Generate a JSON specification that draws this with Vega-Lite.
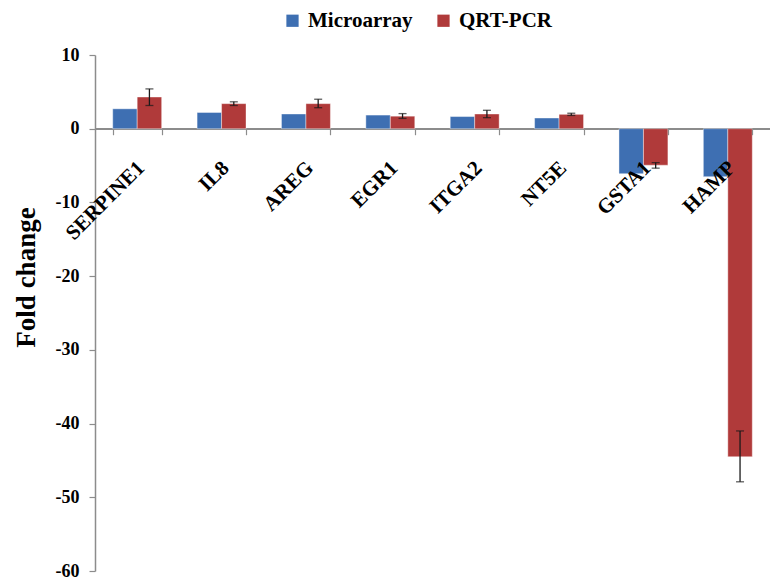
{
  "$schema": "https://vega.github.io/schema/vega-lite/v6.json",
  "width": 675,
  "height": 516,
  "autosize": {"type": "none"},
  "padding": {"left": 95, "top": 55, "right": 0, "bottom": 8},
  "background": "white",
  "config": {
    "view": {"stroke": null},
    "font": "Liberation Serif"
  },
  "data": {
    "values": [
      {"gene": "SERPINE1", "method": "Microarray", "value": 2.7, "lo": null, "hi": null},
      {"gene": "SERPINE1", "method": "QRT-PCR", "value": 4.3, "lo": 3.15, "hi": 5.4},
      {"gene": "IL8", "method": "Microarray", "value": 2.2, "lo": null, "hi": null},
      {"gene": "IL8", "method": "QRT-PCR", "value": 3.4, "lo": 3.15, "hi": 3.65},
      {"gene": "AREG", "method": "Microarray", "value": 2.0, "lo": null, "hi": null},
      {"gene": "AREG", "method": "QRT-PCR", "value": 3.4, "lo": 2.85, "hi": 4.0},
      {"gene": "EGR1", "method": "Microarray", "value": 1.85, "lo": null, "hi": null},
      {"gene": "EGR1", "method": "QRT-PCR", "value": 1.7, "lo": 1.4, "hi": 2.05},
      {"gene": "ITGA2", "method": "Microarray", "value": 1.65, "lo": null, "hi": null},
      {"gene": "ITGA2", "method": "QRT-PCR", "value": 2.0, "lo": 1.5, "hi": 2.5},
      {"gene": "NT5E", "method": "Microarray", "value": 1.45, "lo": null, "hi": null},
      {"gene": "NT5E", "method": "QRT-PCR", "value": 1.95, "lo": 1.8, "hi": 2.1},
      {"gene": "GSTA1", "method": "Microarray", "value": -6.1, "lo": null, "hi": null},
      {"gene": "GSTA1", "method": "QRT-PCR", "value": -4.95, "lo": -5.35, "hi": -4.6},
      {"gene": "HAMP", "method": "Microarray", "value": -6.5, "lo": null, "hi": null},
      {"gene": "HAMP", "method": "QRT-PCR", "value": -44.5, "lo": -47.9, "hi": -41.0}
    ]
  },
  "layer": [
    {
      "mark": {"type": "rule", "color": "#8c8c8c", "strokeWidth": 1.5},
      "encoding": {
        "y": {"datum": 0, "type": "quantitative"}
      }
    },
    {
      "mark": {"type": "bar", "stroke": "#ffffff", "strokeOpacity": 0.5, "strokeWidth": 0.8},
      "encoding": {
        "x": {
          "field": "gene",
          "type": "nominal",
          "sort": null,
          "scale": {"paddingInner": 0.42, "paddingOuter": 0.21},
          "axis": {
            "title": null,
            "zindex": 1,
            "offset": -442.29,
            "domain": false,
            "tickColor": "#8c8c8c",
            "tickWidth": 1.2,
            "tickSize": 6,
            "tickBand": "extent",
            "labelAngle": -45,
            "labelAlign": "right",
            "labelBaseline": "top",
            "labelPadding": 22,
            "labelOffset": -4,
            "labelFont": "Liberation Serif",
            "labelFontWeight": "bold",
            "labelFontSize": 21,
            "labelColor": "black"
          }
        },
        "xOffset": {"field": "method", "type": "nominal", "sort": ["Microarray", "QRT-PCR"]},
        "y": {
          "field": "value",
          "type": "quantitative",
          "scale": {"domain": [-60, 10], "nice": false, "zero": true},
          "axis": {
            "values": [-60, -50, -40, -30, -20, -10, 0, 10],
            "labelExpr": "datum.value < 0 ? '-' + abs(datum.value) : '' + datum.value",
            "grid": false,
            "title": "Fold change",
            "titleFont": "Liberation Serif",
            "titleFontWeight": "bold",
            "titleFontSize": 27,
            "titleColor": "black",
            "titleAngle": -90,
            "titleAlign": "center",
            "titleBaseline": "alphabetic",
            "titleX": -61,
            "titleY": 222,
            "domainColor": "#8c8c8c",
            "domainWidth": 1.5,
            "tickColor": "#8c8c8c",
            "tickWidth": 1.2,
            "tickSize": 6,
            "labelPadding": 10,
            "labelFont": "Liberation Serif",
            "labelFontWeight": "bold",
            "labelFontSize": 18,
            "labelColor": "black"
          }
        },
        "color": {
          "field": "method",
          "type": "nominal",
          "scale": {"domain": ["Microarray", "QRT-PCR"], "range": ["#3E6FB2", "#B03A3A"]},
          "legend": {
            "title": null,
            "orient": "none",
            "direction": "horizontal",
            "legendX": 187,
            "legendY": -45,
            "symbolType": "square",
            "symbolSize": 150,
            "symbolStrokeWidth": 0,
            "symbolOpacity": 1,
            "labelFont": "Liberation Serif",
            "labelFontWeight": "bold",
            "labelFontSize": 21,
            "labelColor": "black",
            "labelLimit": 200,
            "columnPadding": 20,
            "labelOffset": 5
          }
        }
      }
    },
    {
      "transform": [{"filter": "isValid(datum.lo)"}],
      "mark": {"type": "rule", "color": "#1a1a1a", "strokeWidth": 1.3},
      "encoding": {
        "x": {"field": "gene", "type": "nominal", "sort": null},
        "xOffset": {"field": "method", "type": "nominal", "sort": ["Microarray", "QRT-PCR"]},
        "y": {"field": "lo", "type": "quantitative"},
        "y2": {"field": "hi"}
      }
    },
    {
      "transform": [{"filter": "isValid(datum.lo)"}],
      "mark": {"type": "tick", "color": "#1a1a1a", "size": 8, "thickness": 1.3, "orient": "horizontal"},
      "encoding": {
        "x": {"field": "gene", "type": "nominal", "sort": null},
        "xOffset": {"field": "method", "type": "nominal", "sort": ["Microarray", "QRT-PCR"]},
        "y": {"field": "lo", "type": "quantitative"}
      }
    },
    {
      "transform": [{"filter": "isValid(datum.hi)"}],
      "mark": {"type": "tick", "color": "#1a1a1a", "size": 8, "thickness": 1.3, "orient": "horizontal"},
      "encoding": {
        "x": {"field": "gene", "type": "nominal", "sort": null},
        "xOffset": {"field": "method", "type": "nominal", "sort": ["Microarray", "QRT-PCR"]},
        "y": {"field": "hi", "type": "quantitative"}
      }
    }
  ]
}
